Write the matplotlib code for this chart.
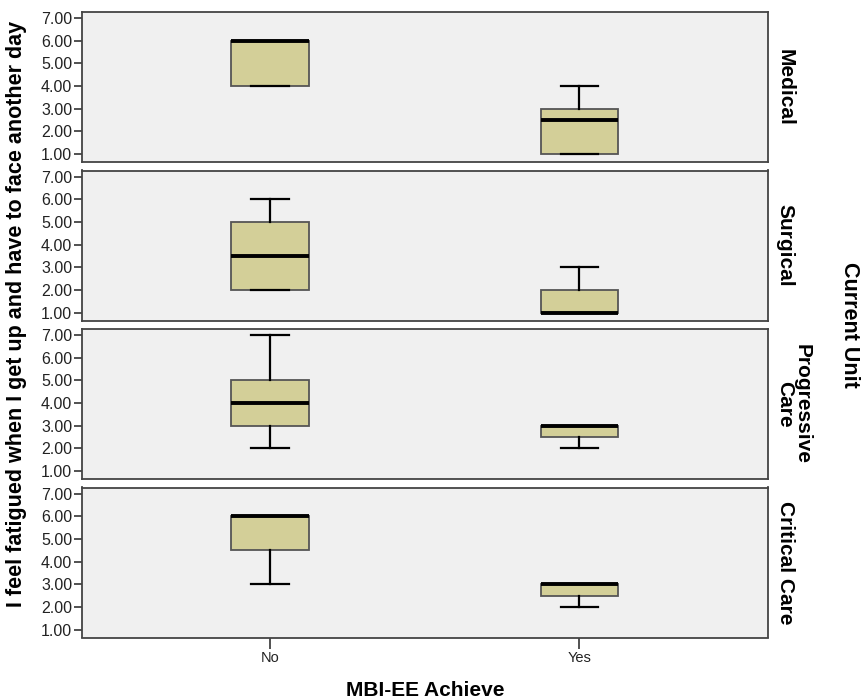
import matplotlib
matplotlib.use("Agg")
import matplotlib.pyplot as plt

plt.rcParams['font.family'] = ['Liberation Sans', 'DejaVu Sans']

units = ["Medical", "Surgical", "Progressive\nCare", "Critical Care"]
groups = ["No", "Yes"]
# per unit: [No, Yes] stats (whislo, q1, med, q3, whishi)
whislo = [[4, 1], [2, 1], [2, 2], [3, 2]]
q1 = [[4, 1], [2, 1], [3, 2.5], [4.5, 2.5]]
med = [[6, 2.5], [3.5, 1], [4, 3], [6, 3]]
q3 = [[6, 3], [5, 2], [5, 3], [6, 3]]
whishi = [[6, 4], [6, 3], [7, 3], [6, 3]]
yticks = [1, 2, 3, 4, 5, 6, 7]

W, H = 861, 700
fig = plt.figure(figsize=(W / 100, H / 100), dpi=100)

left, right = 82, 768
box_fill = "#D3CF98"
bg = "#F0F0F0"
edge = "#444444"

axes = []
for i, unit in enumerate(units):
    top = 12 + i * 158.5
    h = 150
    ax = fig.add_axes([left / W, 1 - (top + h) / H, (right - left) / W, h / H])
    stats = []
    for j, g in enumerate(groups):
        stats.append(dict(whislo=whislo[i][j], q1=q1[i][j], med=med[i][j],
                          q3=q3[i][j], whishi=whishi[i][j], fliers=[], label=g))
    ax.bxp(stats, positions=[1, 2], widths=0.25, patch_artist=True,
           showfliers=False,
           boxprops=dict(facecolor=box_fill, edgecolor="#555555", linewidth=1.3),
           medianprops=dict(color="black", linewidth=2.8, solid_capstyle="butt"),
           whiskerprops=dict(color="black", linewidth=1.6),
           capprops=dict(color="black", linewidth=1.6),
           capwidths=0.12)
    ax.set_facecolor(bg)
    ax.set_xlim(0.392, 2.61)
    ax.set_ylim(0.65, 7.27)
    ax.set_yticks(yticks)
    ax.set_yticklabels([f"{v:.2f}" for v in yticks], fontsize=11.5, color="#222222")
    ax.tick_params(axis="y", direction="out", length=6, width=1.2, color="#333333", pad=1)
    for s in ax.spines.values():
        s.set_color(edge)
        s.set_linewidth(1.3)
    if i < len(units) - 1:
        ax.set_xticks([])
    else:
        ax.set_xticks([1, 2])
        ax.set_xticklabels(groups, fontsize=10.5, color="#222222")
        ax.tick_params(axis="x", direction="out", length=8, width=1.2, color="#333333", pad=2)
    ax.text(1.011, 0.5, unit, transform=ax.transAxes, rotation=-90,
            ha="left", va="center", fontsize=15, fontweight="bold",
            linespacing=0.85, multialignment="center")
    axes.append(ax)

fig.text(17 / W, 1 - 314 / H, "I feel fatigued when I get up and have to face another day",
         rotation=90, ha="center", va="center", fontsize=15.5, fontweight="bold")
fig.text(425 / W, 1 - 690 / H, "MBI-EE Achieve", ha="center", va="center",
         fontsize=15, fontweight="bold")
fig.text(850 / W, 1 - 325 / H, "Current Unit", rotation=-90, ha="center", va="center",
         fontsize=15.5, fontweight="bold")

fig.savefig("out.png", dpi=100, facecolor="white")
